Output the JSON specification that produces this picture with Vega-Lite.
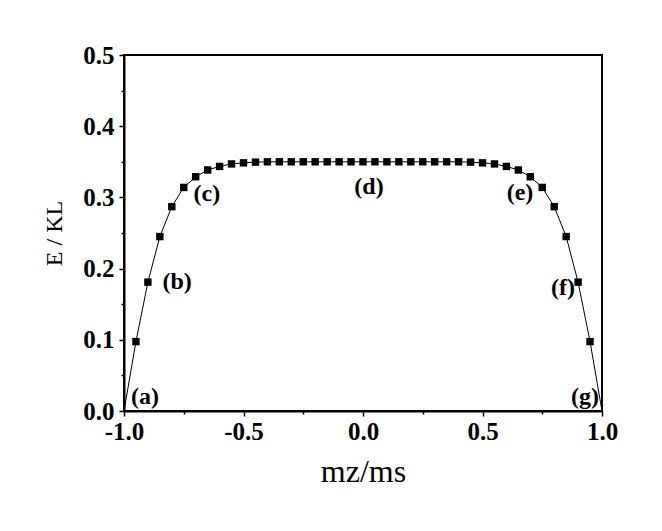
{
  "$schema": "https://vega.github.io/schema/vega-lite/v6.json",
  "width": 478,
  "height": 356,
  "autosize": {"type": "none"},
  "padding": {"left": 124, "top": 55, "right": 60, "bottom": 120},
  "background": "white",
  "config": {
    "view": {"stroke": "black", "strokeWidth": 2},
    "axis": {
      "grid": false,
      "domainColor": "black",
      "domainWidth": 2,
      "tickColor": "black",
      "tickWidth": 1.5,
      "labelColor": "black",
      "labelFont": "Liberation Serif",
      "labelFontWeight": "bold",
      "labelFontSize": 25,
      "labelFlush": false,
      "titleFont": "Liberation Serif",
      "titleColor": "black",
      "titleFontWeight": "normal"
    },
    "text": {"font": "Liberation Serif"}
  },
  "datasets": {
    "curve": [
      {"m": -1.0, "E": 0.0},
      {"m": -0.95, "E": 0.0975},
      {"m": -0.9, "E": 0.181},
      {"m": -0.85, "E": 0.245},
      {"m": -0.8, "E": 0.287},
      {"m": -0.75, "E": 0.314},
      {"m": -0.7, "E": 0.329},
      {"m": -0.65, "E": 0.3385},
      {"m": -0.6, "E": 0.3435},
      {"m": -0.55, "E": 0.347},
      {"m": -0.5, "E": 0.3485},
      {"m": -0.45, "E": 0.3495},
      {"m": -0.4, "E": 0.35},
      {"m": -0.35, "E": 0.35},
      {"m": -0.3, "E": 0.35},
      {"m": -0.25, "E": 0.35},
      {"m": -0.2, "E": 0.35},
      {"m": -0.15, "E": 0.35},
      {"m": -0.1, "E": 0.35},
      {"m": -0.05, "E": 0.35},
      {"m": 0.0, "E": 0.35},
      {"m": 0.05, "E": 0.35},
      {"m": 0.1, "E": 0.35},
      {"m": 0.15, "E": 0.35},
      {"m": 0.2, "E": 0.35},
      {"m": 0.25, "E": 0.35},
      {"m": 0.3, "E": 0.35},
      {"m": 0.35, "E": 0.35},
      {"m": 0.4, "E": 0.35},
      {"m": 0.45, "E": 0.3495},
      {"m": 0.5, "E": 0.3485},
      {"m": 0.55, "E": 0.347},
      {"m": 0.6, "E": 0.3435},
      {"m": 0.65, "E": 0.3385},
      {"m": 0.7, "E": 0.329},
      {"m": 0.75, "E": 0.314},
      {"m": 0.8, "E": 0.287},
      {"m": 0.85, "E": 0.245},
      {"m": 0.9, "E": 0.181},
      {"m": 0.95, "E": 0.0975},
      {"m": 1.0, "E": 0.0}
    ],
    "labels": [
      {"m": -0.912, "E": 0.02, "label": "(a)"},
      {"m": -0.778, "E": 0.181, "label": "(b)"},
      {"m": -0.653, "E": 0.305, "label": "(c)"},
      {"m": 0.025, "E": 0.315, "label": "(d)"},
      {"m": 0.657, "E": 0.306, "label": "(e)"},
      {"m": 0.837, "E": 0.173, "label": "(f)"},
      {"m": 0.929, "E": 0.02, "label": "(g)"}
    ]
  },
  "resolve": {"axis": {"x": "independent", "y": "independent"}},
  "layer": [
    {
      "data": {"name": "curve"},
      "mark": {"type": "line", "color": "black", "strokeWidth": 1},
      "encoding": {
        "x": {
          "field": "m", "type": "quantitative",
          "scale": {"domain": [-1, 1], "nice": false, "zero": false},
          "axis": {
            "orient": "bottom",
            "values": [-1, -0.5, 0, 0.5, 1],
            "labelExpr": "datum.value < 0 ? '-' + format(-datum.value, '.1f') : format(datum.value, '.1f')",
            "tickSize": 5,
            "labelPadding": 3,
            "title": "mz/ms",
            "titleFontSize": 32,
            "titlePadding": 12
          }
        },
        "y": {
          "field": "E", "type": "quantitative",
          "scale": {"domain": [0, 0.5], "nice": false},
          "axis": {
            "orient": "left",
            "values": [0, 0.1, 0.2, 0.3, 0.4, 0.5],
            "format": ".1f",
            "tickSize": 5,
            "labelPadding": 5,
            "title": "E / KL",
            "titleFontSize": 24,
            "titlePadding": 16
          }
        }
      }
    },
    {
      "data": {"name": "curve"},
      "transform": [{"filter": "abs(datum.m) < 0.99"}],
      "mark": {"type": "point", "shape": "square", "filled": true, "color": "black", "size": 55, "opacity": 1},
      "encoding": {
        "x": {
          "field": "m", "type": "quantitative",
          "axis": {
            "orient": "bottom",
            "values": [-0.75, -0.25, 0.25, 0.75],
            "labels": false,
            "domain": false,
            "tickSize": 3,
            "title": null
          }
        },
        "y": {
          "field": "E", "type": "quantitative",
          "axis": {
            "orient": "left",
            "values": [0.05, 0.15, 0.25, 0.35, 0.45],
            "labels": false,
            "domain": false,
            "tickSize": 3,
            "title": null
          }
        }
      }
    },
    {
      "data": {"name": "labels"},
      "mark": {"type": "text", "font": "Liberation Serif", "fontWeight": "bold", "fontSize": 24, "color": "black", "align": "center", "baseline": "middle"},
      "encoding": {
        "x": {"field": "m", "type": "quantitative", "axis": null},
        "y": {"field": "E", "type": "quantitative", "axis": null},
        "text": {"field": "label"}
      }
    }
  ]
}
